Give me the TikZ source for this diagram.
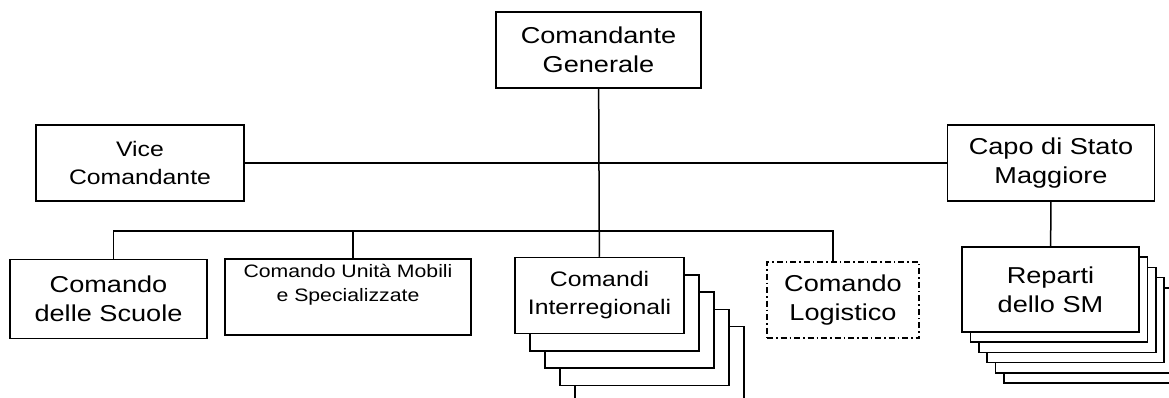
\documentclass[tikz,border=0pt]{standalone}
\usepackage{fontspec}
\setmainfont{Liberation Sans}[FakeStretch=1.18]
\usepackage{tikz}
\newcommand{\bigtxt}{\fontsize{23}{29}\selectfont}
\newcommand{\midtxt}{\fontsize{21}{28}\selectfont}
\newcommand{\smalltxt}{\fontsize{18}{24}\selectfont}
\tikzset{
	box/.style={draw,fill=white,line width=1.5pt,align=center,inner sep=0pt,font=\bigtxt},
	dashbox/.style={box,dash pattern=on 6pt off 3pt on 1.5pt off 3pt},
	link/.style={line width=1.5pt}
}

\begin{document}
\begin{tikzpicture}[x=1pt,y=-1pt]
	\clip (0,0) rectangle (1169,398);
	\fill[white] (0,0) rectangle (1169,398);
	\node[box,minimum width=205,minimum height=76] (cg) at (598.5,50) {Comandante\\Generale};
	\node[box,minimum width=208,minimum height=76,font=\midtxt] (vc) at (140,163) {Vice\\Comandante};
	\node[box,minimum width=207,minimum height=76] (csm) at (1051,163) {Capo di Stato\\Maggiore};
	\node[box,minimum width=197,minimum height=79] (cs) at (108.5,299) {Comando\\delle Scuole};
	\node[box,minimum width=246,minimum height=76,font=\smalltxt] (cu) at (348,297) {Comando Unit\`a Mobili\\e Specializzate\\[4pt]};
	\foreach \i in {4,...,1}
		\node[box,minimum width=169,minimum height=76] at ({599.5+15*\i},{295.5+17.3*\i}) {};
	\node[box,minimum width=169,minimum height=76,font=\midtxt] (ci) at (599.5,295.5) {Comandi\\Interregionali};
	\node[dashbox,minimum width=152,minimum height=76] (cl) at (843,300) {Comando\\Logistico};
	\foreach \i in {5,...,1}
		\node[box,minimum width=177,minimum height=85] at ({1050.5+8.4*\i},{289.5+10.2*\i}) {};
	\node[box,minimum width=177,minimum height=85] (rsm) at (1050.5,289.5) {Reparti\\dello SM};
	\coordinate (bus) at (599,231);
	\draw[link] (cg) -- (ci);
	\draw[link] (vc) -- (csm);
	\draw[link] ([xshift=5pt]cs.north) |- (bus) -| ([xshift=-10pt]cl.north);
	\draw[link] ([xshift=5pt]cu.north) -- ([xshift=5pt]cu.north |- bus);
	\draw[link] (csm) -- (rsm);
\end{tikzpicture}
\end{document}
